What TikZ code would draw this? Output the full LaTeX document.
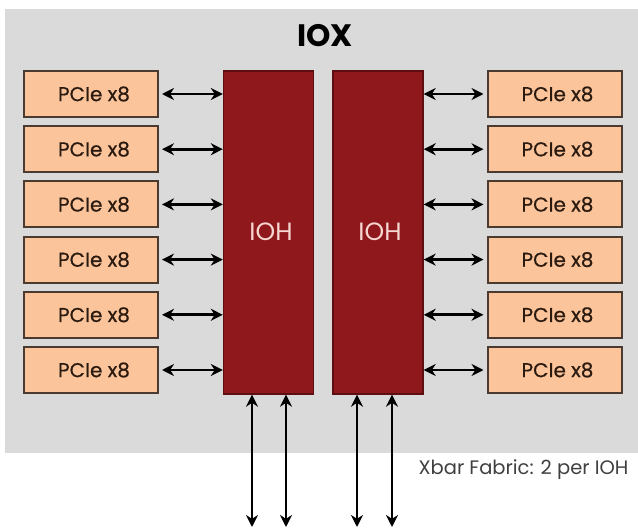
\documentclass[tikz,border=0pt]{standalone}
\usepackage{fontspec}
\setmainfont{Poppins}
\usetikzlibrary{arrows.meta}
\definecolor{bggray}{HTML}{DADADA}
\definecolor{pciefill}{HTML}{FCC49A}
\definecolor{pciedraw}{HTML}{4A3A30}
\definecolor{iohfill}{HTML}{8E181C}
\definecolor{iohdraw}{HTML}{5C0E10}
\definecolor{iohtext}{HTML}{F6D6D0}
\definecolor{pcietext}{HTML}{2A1A10}
\begin{document}
\begin{tikzpicture}[x=1pt,y=-1pt,
  pcie/.style={draw=pciedraw,line width=2pt,fill=pciefill,minimum width=134pt,minimum height=46pt,inner sep=0pt,
    font=\fontsize{20}{20}\selectfont\addfontfeatures{FakeBold=0.6},text=pcietext},
  ioh/.style={draw=iohdraw,line width=1.4pt,fill=iohfill,minimum width=90pt,minimum height=323pt,inner sep=0pt},
  biarrow/.style={line width=2.8pt,{Stealth[length=12pt,width=12pt]}-{Stealth[length=12pt,width=12pt]}}]
\useasboundingbox (0,0) rectangle (638,532);
\fill[white] (0,0) rectangle (638,532);
\fill[bggray] (5,9) rectangle (638,453);
\node[font=\fontsize{31}{31}\selectfont\bfseries] (title) at (325,36) {IOX};
\node[ioh] (iohL) at (268.5,232.5) {};
\node[ioh] (iohR) at (378,232.5) {};
\node[text=iohtext,font=\fontsize{25}{25}\selectfont] (iohLt) at (271,232) {IOH};
\node[text=iohtext,font=\fontsize{25}{25}\selectfont] (iohRt) at (380,232) {IOH};
\foreach \i in {0,...,5}{
  \pgfmathsetmacro{\yy}{94+55.2*\i}
  \node[pcie] (L\i) at (91,\yy) {\hspace{6pt}PCIe x8};
  \node[pcie] (R\i) at (554.5,\yy) {\hspace{6pt}PCIe x8};
  \draw[biarrow] (L\i.east) ++(3,0) coordinate (la\i) -- (la\i -| iohL.west);
  \draw[biarrow] (R\i.west) ++(-3,0) coordinate (ra\i) -- (ra\i -| iohR.east);
}
\coordinate (b1) at (252,527);
\coordinate (b2) at (286,527);
\coordinate (b3) at (357,527);
\coordinate (b4) at (392,527);
\draw[biarrow] (b1 |- iohL.south) -- (b1);
\draw[biarrow] (b2 |- iohL.south) -- (b2);
\draw[biarrow] (b3 |- iohR.south) -- (b3);
\draw[biarrow] (b4 |- iohR.south) -- (b4);
\node[anchor=east,font=\fontsize{19.5}{20}\selectfont,text=black!75] (xbar) at (632,470) {Xbar Fabric: 2 per IOH};
\end{tikzpicture}
\end{document}
